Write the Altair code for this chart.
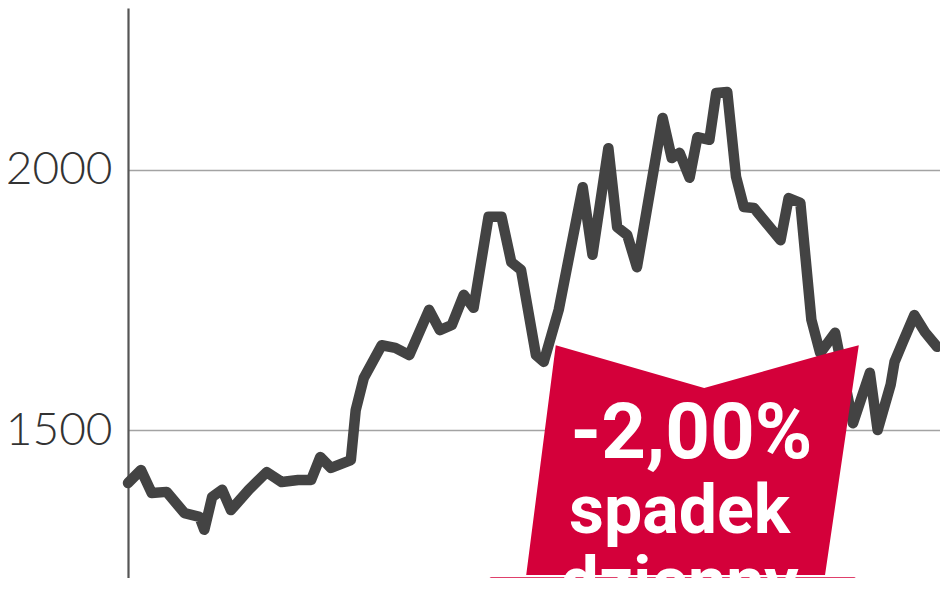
import altair as alt
import pandas as pd

# Index level readings (t = trading day, v = index value)
t_days = [0.0, 4.0, 7.3, 11.9, 17.4, 22.0, 23.5, 25.9, 29.0, 31.7, 37.2, 42.7, 47.3, 52.4,
          56.4, 59.2, 62.5, 68.6, 70.1, 72.6, 78.1, 82.3, 86.6, 92.7, 96.0, 99.7, 103.4,
          106.4, 111.0, 115.0, 118.0, 121.0, 125.6, 128.0, 132.6, 140.0, 143.0, 147.9,
          150.6, 153.7, 156.7, 164.6, 167.4, 169.8, 172.9, 175.3, 179.0, 181.1, 184.5,
          187.2, 189.6, 192.7, 200.9, 203.4, 207.0, 210.4, 213.1, 217.7, 223.2, 228.4,
          230.8, 234.8, 236.0, 238.4, 242.1, 245.4, 249.1]
values = [1398, 1423, 1379, 1381, 1340, 1333, 1308, 1371, 1385, 1346, 1385, 1419, 1400, 1404,
          1404, 1448, 1427, 1442, 1538, 1600, 1663, 1658, 1644, 1731, 1692, 1702, 1760,
          1735, 1910, 1910, 1823, 1808, 1644, 1631, 1731, 1967, 1837, 2042,
          1890, 1875, 1813, 2100, 2023, 2033, 1985, 2063, 2058, 2148, 2150,
          1987, 1929, 1927, 1865, 1946, 1937, 1712, 1648, 1687, 1513, 1610,
          1500, 1587, 1631, 1667, 1721, 1688, 1660]

y_ticks = [1500, 2000]

# Annotation arrow outline in data units (day, index level)
arrow_part = ["body", "body", "body", "body", "body", "head", "head", "head"]
arrow_t = [122.6, 131.7, 177.4, 214.6, 225.0, 111.3, 166.8, 224.1]
arrow_top = [1221, 1663, 1581, 1646, 1663, 1217, 1217, 1217]
arrow_bottom = [1221, 1221, 1221, 1221, 1663, 1217, 1019, 1217]

label_text = ["-2,00%", "spadek", "dzienny"]
label_t = [173.5, 169.8, 169.8]
label_v = [1446, 1302, 1163]
label_size = [78, 68, 68]

line_df = pd.DataFrame({"t": t_days, "v": values})
arrow_df = pd.DataFrame({"part": arrow_part, "t": arrow_t, "top": arrow_top, "bottom": arrow_bottom})
label_df = pd.DataFrame({"text": label_text, "t": label_t, "v": label_v, "size": label_size})

x_scale = alt.Scale(domain=[0, 250], nice=False, zero=False)
y_scale = alt.Scale(domain=[1215.4, 2311.5], nice=False, zero=False)
y_axis = alt.Axis(
    values=y_ticks, title=None, ticks=False, grid=True, format="d",
    gridColor="#a3a3a3", gridWidth=1.6,
    domainColor="#555555", domainWidth=2.2,
    labelFont="Lato", labelFontWeight=300, labelFontSize=46, labelColor="#333333",
    labelPadding=16, labelBaseline="middle",
)

line = alt.Chart(line_df).mark_line(
    color="#434343", strokeWidth=10.5, strokeJoin="round", strokeCap="round"
).encode(
    x=alt.X("t:Q", scale=x_scale, axis=None),
    y=alt.Y("v:Q", scale=y_scale, axis=y_axis),
)

arrow = alt.Chart(arrow_df).mark_area(color="#d4003a", opacity=1, line=False).encode(
    x=alt.X("t:Q", scale=x_scale, axis=None),
    y=alt.Y("top:Q", scale=y_scale, axis=y_axis),
    y2="bottom:Q",
    detail="part:N",
)

labels = alt.Chart(label_df).mark_text(
    font="Roboto", fontWeight="bold", color="white",
    align="center", baseline="alphabetic",
).encode(
    x=alt.X("t:Q", scale=x_scale, axis=None),
    y=alt.Y("v:Q", scale=y_scale, axis=y_axis),
    text="text:N",
    size=alt.Size("size:Q", scale=None, legend=None),
)

chart = alt.layer(line, arrow, labels).properties(
    width=812, height=570,
    autosize=alt.AutoSizeParams(type="none"),
    padding={"left": 120, "top": 0, "right": 0, "bottom": 0},
).configure(background="white", view={"stroke": None, "strokeWidth": 0})

chart.save("out.html", embed_options={"renderer": "svg", "actions": False})
